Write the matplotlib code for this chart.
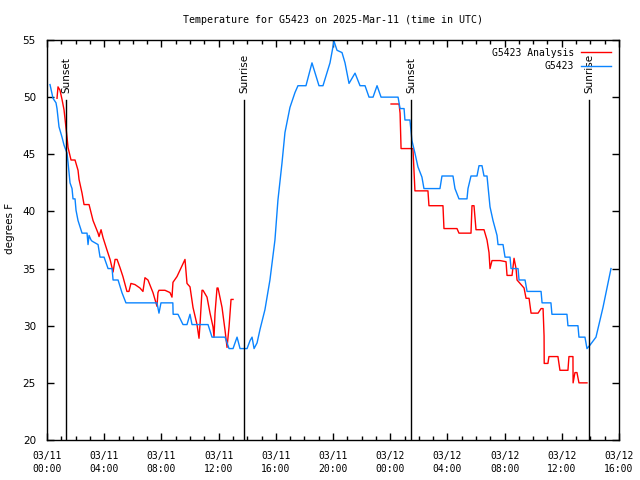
import numpy as np
import matplotlib
matplotlib.use("Agg")
import matplotlib.pyplot as plt
import matplotlib.dates as mdates

# hours after 2025-03-11 00:00 UTC
obs_hours = [0.21, 0.42, 0.63, 0.70, 0.84, 1.05, 1.19, 1.40, 1.47, 1.61, 1.75, 1.82, 1.96, 2.03,
             2.17, 2.45, 2.80, 2.87, 2.94, 3.08, 3.15, 3.57, 3.71, 3.99, 4.27, 4.55, 4.62, 4.97,
             5.24, 5.52, 7.69, 7.83, 7.97, 8.80, 8.82, 9.16, 9.51, 9.79, 10.00, 10.14, 11.26,
             11.54, 12.45, 12.59, 12.73, 13.01, 13.29, 13.50, 13.99, 14.20, 14.34, 14.48, 14.69,
             14.90, 15.24, 15.59, 15.94, 16.15, 16.43, 16.64, 16.99, 17.34, 17.55, 18.11, 18.53,
             19.02, 19.30, 19.79, 20.07, 20.28, 20.63, 20.84, 21.12, 21.54, 21.89, 22.24, 22.52,
             22.80, 23.08, 23.36, 24.55, 24.69, 24.97, 25.03, 25.38, 25.52, 25.73, 25.94, 26.22,
             26.36, 27.48, 27.62, 28.39, 28.53, 28.81, 29.37, 29.44, 29.65, 30.07, 30.21, 30.42,
             30.56, 30.77, 30.98, 31.19, 31.47, 31.54, 31.89, 32.03, 32.38, 32.45, 32.94, 33.01,
             33.43, 33.57, 34.55, 34.62, 35.24, 35.31, 36.36, 36.43, 37.13, 37.20, 37.62, 37.76,
             37.97, 38.39, 38.88, 39.44]
obs_temps = [51.1, 49.9, 49.5, 49.0, 47.4, 46.5, 45.8, 45.1, 44.3, 42.5, 42.0, 41.1, 41.1, 40.1,
             39.2, 38.1, 38.1, 37.1, 37.9, 37.5, 37.4, 37.1, 36.0, 36.0, 35.0, 35.0, 34.0, 34.0,
             32.9, 32.0, 32.0, 31.1, 32.0, 32.0, 31.0, 31.0, 30.1, 30.1, 31.0, 30.1, 30.1,
             29.0, 29.0, 28.5, 28.0, 28.0, 29.0, 28.0, 28.0, 28.7, 29.0, 28.0, 28.5,
             29.7, 31.4, 34.0, 37.5, 41.0, 44.2, 46.9, 49.1, 50.4, 51.0, 51.0, 53.0,
             51.0, 51.0, 53.0, 54.9, 54.1, 53.9, 53.0, 51.2, 52.1, 51.0, 51.0, 50.0,
             50.0, 51.0, 50.0, 50.0, 49.0, 49.0, 48.0, 48.0, 46.2, 45.1, 43.9, 43.0,
             42.0, 42.0, 43.1, 43.1, 42.0, 41.1, 41.1, 42.0, 43.1, 43.1, 44.0, 44.0,
             43.1, 43.1, 40.4, 39.2, 37.9, 37.1, 37.1, 36.0, 36.0, 35.0, 35.0, 34.0,
             34.0, 33.0, 33.0, 32.0, 32.0, 31.0, 31.0, 30.0, 30.0, 29.0, 29.0, 28.0,
             28.3, 29.0, 31.6, 35.0]

ana_hours = [0.70, 0.77, 0.91, 1.05, 1.19, 1.40, 1.47, 1.68, 1.96, 2.17, 2.24, 2.45, 2.59, 2.94,
             3.22, 3.57, 3.64, 3.78, 3.92, 4.20, 4.41, 4.62, 4.76, 4.90, 5.10, 5.31, 5.59, 5.73,
             5.87, 6.15, 6.50, 6.71, 6.85, 7.06, 7.41, 7.69, 7.76, 7.83, 8.25, 8.60, 8.74, 8.81,
             9.09, 9.65, 9.79, 10.00, 10.21, 10.49, 10.63, 10.70, 10.84, 10.91, 11.19, 11.40,
             11.61, 11.68, 11.75, 11.89, 11.96, 12.24, 12.45, 12.59, 12.73, 12.87, 13.01,
             np.nan,
             24.06, 24.62, 24.69, 24.76, 25.59, 25.73, 26.64, 26.71, 27.69, 27.76, 28.67, 28.81,
             29.65, 29.72, 29.86, 30.00, 30.56, 30.77, 30.91, 30.98, 31.12, 31.68, 32.10, 32.17,
             32.52, 32.66, 32.80, 32.87, 33.08, 33.36, 33.50, 33.71, 33.85, 34.34, 34.55, 34.69,
             34.76, 34.77, 35.03, 35.10, 35.73, 35.87, 36.43, 36.50, 36.78, 36.79, 36.92, 37.06,
             37.20, 37.76]
ana_temps = [49.9, 50.9, 50.6, 49.8, 48.9, 46.5, 45.6, 44.5, 44.5, 43.6, 42.8, 41.6, 40.6, 40.6,
             39.2, 38.1, 37.8, 38.4, 37.7, 36.6, 35.8, 34.7, 35.8, 35.8, 35.1, 34.3, 33.0, 33.0,
             33.7, 33.6, 33.3, 33.0, 34.2, 34.0, 32.9, 31.7, 32.9, 33.1, 33.1, 32.9, 32.5, 33.8,
             34.3, 35.8, 33.7, 33.4, 31.6, 30.1, 28.9, 30.1, 33.1, 33.1, 32.5, 31.1,
             29.9, 29.0, 31.1, 33.3, 33.3, 31.6, 29.6, 28.1, 29.9, 32.3, 32.3,
             np.nan,
             49.4, 49.4, 48.6, 45.5, 45.5, 41.8, 41.8, 40.5, 40.5, 38.5, 38.5, 38.1,
             38.1, 40.5, 40.5, 38.4, 38.4, 37.5, 36.4, 35.0, 35.7, 35.7, 35.6, 34.4,
             34.4, 35.9, 35.0, 34.0, 33.7, 33.3, 32.4, 32.4, 31.1, 31.1, 31.5, 31.5,
             29.1, 26.7, 26.7, 27.3, 27.3, 26.1, 26.1, 27.3, 27.3, 25.0, 25.9, 25.9,
             25.0, 25.0]

sun_hours = [1.33, 13.80, 25.45, 37.92]
sun_labels = ["Sunset", "Sunrise", "Sunset", "Sunrise"]

start = np.datetime64("2025-03-11T00:00")


def to_num(hours):
    return mdates.date2num(start) + np.array(hours, dtype=float) / 24.0


plt.rcParams['font.family'] = 'DejaVu Sans Mono'
plt.rcParams['font.size'] = 7

fig = plt.figure(figsize=(6.4, 4.8), dpi=100)
ax = fig.add_axes([47 / 640, 40 / 480, 572 / 640, 400 / 480])

ax.plot(to_num(ana_hours), ana_temps, color='#ff0000', lw=1.0, label='G5423 Analysis')
ax.plot(to_num(obs_hours), obs_temps, color='#0a84ff', lw=1.0, label='G5423')

for h, lab in zip(sun_hours, sun_labels):
    xn = to_num([h])[0]
    ax.plot([xn, xn], [20, 49.75], color='black', lw=1.0)
    ax.text(xn, 50.35, lab, rotation=90, ha='center', va='bottom',
            fontsize=7.5, fontfamily='DejaVu Sans')

ax.set_xlim(to_num([0])[0], to_num([40])[0])
ax.set_ylim(20, 55)
ax.set_yticks(np.arange(20, 56, 5))
ax.xaxis.set_major_locator(mdates.HourLocator(byhour=range(0, 24, 4)))
ax.xaxis.set_minor_locator(mdates.HourLocator())
ax.xaxis.set_major_formatter(mdates.DateFormatter('%m/%d\n%H:%M'))
ax.tick_params(which='both', direction='in', top=True, right=True, width=1)
ax.tick_params(which='major', length=5)
ax.tick_params(which='minor', length=3)
ax.tick_params(axis='x', labelsize=7, pad=8)
ax.tick_params(axis='y', labelsize=7.5, pad=8)
for lbl in ax.get_xticklabels():
    lbl.set_linespacing(1.3)
for lbl in ax.get_yticklabels():
    lbl.set_fontfamily('DejaVu Sans')
for s in ax.spines.values():
    s.set_linewidth(1.0)

ax.set_ylabel('degrees F', fontfamily='DejaVu Sans', fontsize=7.5, va='center')
ax.yaxis.set_label_coords(-37 / 572, 0.53)
ax.set_title('Temperature for G5423 on 2025-Mar-11 (time in UTC)', fontsize=7.2, pad=12)
ax.legend(loc='upper right', frameon=False, markerfirst=False, handlelength=3.1,
          borderaxespad=0.4, labelspacing=0.35, handletextpad=0.7, fontsize=7)

fig.savefig('out.png', dpi=100)
